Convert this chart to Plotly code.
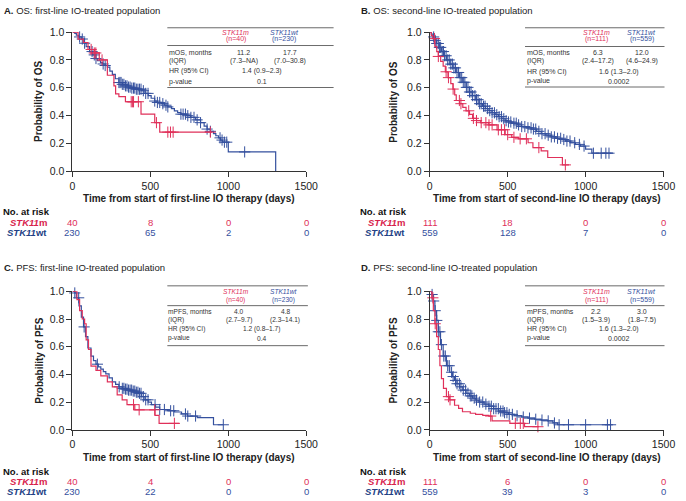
import numpy as np
import plotly.graph_objects as go

# ------------------------------------------------------------------ data
risk_times = [0, 500, 1000, 1500]

# Panel A – OS, first-line IO
a_m_t = [0, 36, 70, 100, 140, 172, 224, 266, 277, 298, 340, 440, 528, 560, 895]
a_m_s = [1.0, 0.95, 0.925, 0.875, 0.85, 0.80, 0.69, 0.614, 0.556, 0.537, 0.50, 0.411, 0.35, 0.282, 0.282]
a_m_cens = [120, 140, 150, 190, 377, 386, 392, 423, 539, 612, 629, 646, 885]
a_wt_t = [0, 15, 25, 40, 57, 75, 88, 110, 130, 150, 161, 180, 193, 210, 224, 240, 256, 275, 298, 320,
          340, 360, 381, 410, 444, 465, 486, 505, 528, 545, 570, 590, 612, 635, 654, 675, 696, 730,
          759, 790, 822, 845, 864, 885, 905, 920, 937, 950, 964, 1000, 1304]
a_wt_s = [1.0, 0.99, 0.977, 0.965, 0.95, 0.92, 0.895, 0.86, 0.836, 0.81, 0.794, 0.78, 0.771, 0.76, 0.748,
          0.72, 0.696, 0.665, 0.638, 0.625, 0.614, 0.605, 0.598, 0.59, 0.579, 0.56, 0.544, 0.525, 0.505,
          0.495, 0.486, 0.475, 0.463, 0.45, 0.435, 0.423, 0.411, 0.40, 0.388, 0.37, 0.35, 0.325, 0.304,
          0.288, 0.271, 0.256, 0.241, 0.225, 0.21, 0.14, 0.0]
a_wt_cens = [46, 63, 78, 126, 140, 151, 197, 210, 298, 305, 312, 320, 330, 340, 350, 360, 370, 381, 392,
             400, 410, 420, 430, 440, 455, 470, 485, 528, 545, 560, 580, 600, 612, 696, 710, 725, 740,
             760, 780, 800, 822, 864, 885, 947, 960, 975, 990, 1105]
a_risk_m = [40, 8, 0, 0]
a_risk_wt = [230, 65, 2, 0]

# Panel B – OS, second-line IO
b_m_t = [0, 10, 19, 33, 45, 55, 70, 86, 100, 117, 135, 149, 160, 170, 191, 212, 233, 255, 275, 300,
         327, 379, 432, 484, 526, 568, 631, 662, 715, 757, 851, 893]
b_m_s = [1.0, 0.975, 0.953, 0.895, 0.86, 0.825, 0.79, 0.755, 0.715, 0.673, 0.63, 0.591, 0.55, 0.509,
         0.486, 0.46, 0.435, 0.41, 0.381, 0.365, 0.35, 0.334, 0.299, 0.264, 0.245, 0.234, 0.206, 0.171,
         0.147, 0.10, 0.047, 0.047]
b_m_cens = [30, 55, 105, 120, 150, 190, 200, 250, 280, 300, 330, 360, 380, 400, 440, 460, 480, 500,
            540, 580, 620, 700, 870]
b_wt_t = [0, 10, 23, 35, 44, 60, 75, 90, 107, 130, 149, 170, 191, 212, 233, 255, 275, 295, 316, 338,
          358, 380, 400, 420, 442, 463, 484, 505, 526, 560, 589, 620, 652, 685, 715, 745, 778, 810,
          841, 872, 903, 935, 966, 1000, 1040, 1176]
b_wt_s = [1.0, 0.985, 0.965, 0.94, 0.918, 0.89, 0.86, 0.83, 0.80, 0.77, 0.743, 0.71, 0.673, 0.64, 0.603,
          0.57, 0.544, 0.515, 0.486, 0.468, 0.451, 0.436, 0.421, 0.407, 0.393, 0.378, 0.364, 0.355,
          0.346, 0.334, 0.322, 0.313, 0.304, 0.288, 0.271, 0.26, 0.248, 0.238, 0.229, 0.218, 0.206,
          0.194, 0.182, 0.16, 0.131, 0.131]
b_wt_cens = [25, 35, 45, 55, 62, 70, 80, 88, 95, 105, 115, 125, 135, 145, 155, 165, 175, 185, 195, 205,
             215, 225, 235, 245, 255, 265, 275, 290, 300, 310, 320, 330, 345, 355, 370, 385, 400, 415,
             430, 445, 460, 475, 490, 505, 520, 540, 555, 570, 590, 610, 630, 650, 665, 680, 700, 720,
             740, 760, 780, 800, 820, 840, 860, 880, 900, 930, 960, 990, 1050, 1100, 1130, 1150]
b_risk_m = [111, 18, 0, 0]
b_risk_wt = [559, 128, 7, 0]

# Panel C – PFS, first-line IO
c_m_t = [0, 29, 46, 63, 78, 88, 103, 119, 151, 182, 224, 256, 287, 319, 350, 400, 530, 556, 685]
c_m_s = [1.0, 0.94, 0.86, 0.80, 0.766, 0.65, 0.58, 0.46, 0.43, 0.39, 0.346, 0.311, 0.253, 0.217, 0.182,
         0.145, 0.105, 0.047, 0.047]
c_m_cens = [392, 428, 528, 654]
c_wt_t = [0, 15, 25, 42, 57, 71, 84, 99, 119, 135, 151, 166, 182, 198, 214, 235, 256, 277, 298, 320,
          340, 360, 381, 402, 423, 444, 465, 486, 507, 533, 560, 610, 654, 700, 738, 801, 905, 968]
c_wt_s = [1.0, 0.988, 0.953, 0.895, 0.813, 0.743, 0.673, 0.591, 0.533, 0.50, 0.474, 0.455, 0.439, 0.42,
          0.404, 0.375, 0.346, 0.328, 0.311, 0.30, 0.294, 0.287, 0.280, 0.272, 0.264, 0.24, 0.217, 0.2,
          0.182, 0.165, 0.147, 0.138, 0.129, 0.115, 0.10, 0.089, 0.037, 0.037]
c_wt_cens = [15, 40, 75, 160, 300, 320, 330, 340, 350, 360, 370, 380, 390, 400, 410, 420, 430, 440, 455,
             470, 485, 530, 560, 590, 630, 650, 725, 740, 790, 968]
c_risk_m = [40, 4, 0, 0]
c_risk_wt = [230, 22, 0, 0]

# Panel D – PFS, second-line IO
d_m_t = [0, 13, 23, 33, 44, 55, 65, 75, 88, 107, 128, 159, 185, 210, 260, 294, 340, 379, 400, 514,
         608, 700]
d_m_s = [1.0, 0.953, 0.86, 0.766, 0.673, 0.58, 0.463, 0.37, 0.30, 0.24, 0.217, 0.178, 0.155, 0.131,
         0.12, 0.112, 0.105, 0.10, 0.065, 0.047, 0.023, 0.023]
d_m_cens = [20, 35, 120, 130, 391, 549, 581, 600, 694]
d_wt_t = [0, 13, 23, 33, 44, 55, 69, 86, 107, 128, 145, 159, 175, 191, 212, 233, 255, 275, 295, 316,
          348, 379, 410, 442, 475, 505, 545, 589, 630, 673, 715, 757, 790, 820, 1165]
d_wt_s = [1.0, 0.977, 0.93, 0.86, 0.79, 0.708, 0.615, 0.533, 0.463, 0.416, 0.385, 0.357, 0.333, 0.311,
          0.287, 0.264, 0.245, 0.229, 0.215, 0.201, 0.186, 0.171, 0.153, 0.136, 0.124, 0.112, 0.102,
          0.093, 0.085, 0.077, 0.071, 0.065, 0.05, 0.037, 0.037]
d_wt_cens = [15, 25, 35, 45, 55, 65, 75, 90, 100, 115, 125, 140, 150, 165, 175, 190, 200, 215, 230, 245,
             260, 270, 285, 300, 320, 340, 360, 380, 395, 410, 425, 440, 455, 470, 480, 495, 510, 530,
             560, 600, 640, 680, 720, 760, 800, 830, 890, 1000, 1140, 1160]
d_risk_m = [111, 6, 0, 0]
d_risk_wt = [559, 39, 3, 0]

# inset table texts
row_labels_os = ["mOS, months", "(IQR)", "HR (95% CI)", "p-value"]
row_labels_pfs = ["mPFS, months", "(IQR)", "HR (95% CI)", "p-value"]
a_n = ["(n=40)", "(n=230)"]; a_med = ["11.2", "17.7"]; a_iqr = ["(7.3–NA)", "(7.0–30.8)"]
a_hr = "1.4 (0.9–2.3)"; a_p = "0.1"
b_n = ["(n=111)", "(n=559)"]; b_med = ["6.3", "12.0"]; b_iqr = ["(2.4–17.2)", "(4.6–24.9)"]
b_hr = "1.6 (1.3–2.0)"; b_p = "0.0002"
c_n = ["(n=40)", "(n=230)"]; c_med = ["4.0", "4.8"]; c_iqr = ["(2.7–9.7)", "(2.3–14.1)"]
c_hr = "1.2 (0.8–1.7)"; c_p = "0.4"
d_n = ["(n=111)", "(n=559)"]; d_med = ["2.2", "3.0"]; d_iqr = ["(1.5–3.9)", "(1.8–7.5)"]
d_hr = "1.6 (1.3–2.0)"; d_p = "0.0002"

titles = ["<b>A.</b> OS: first-line IO-treated population",
          "<b>B.</b> OS: second-line IO-treated population",
          "<b>C.</b> PFS: first-line IO-treated population",
          "<b>D.</b> PFS: second-line IO-treated population"]
ytitles = ["Probability of OS", "Probability of OS", "Probability of PFS", "Probability of PFS"]
xtitles = ["Time from start of first-line IO therapy (days)",
           "Time from start of second-line IO therapy (days)",
           "Time from start of first-line IO therapy (days)",
           "Time from start of second-line IO therapy (days)"]

# ------------------------------------------------------------------ style
W, H = 686, 501
FONT = "Liberation Sans, Arial, Helvetica, sans-serif"
RED = "#E0305A"
BLUE = "#34509E"
RED_TXT = "#D8234C"
BLUE_TXT = "#233F85"
AX = "#333333"


def px(x):
    return x / W


def py(y):
    return 1 - y / H


def surv_at(t, s, times):
    idx = np.searchsorted(np.array(t), np.array(times), side="right") - 1
    return np.array(s)[idx]


panels = [
    dict(t=(a_m_t, a_m_s, a_m_cens, a_wt_t, a_wt_s, a_wt_cens), risk=(a_risk_m, a_risk_wt),
         tab=(row_labels_os, a_n, a_med, a_iqr, a_hr, a_p),
         x0=71, x1=310, y0=26.7, y1=169.5, title=(0, 5), ytx=37, xty=197.7,
         nrisk=(-1, 210.7, 222, 232.3), lab_r=46.5,
         tb=dict(lx0=168, lx1=338, top=22.3, h1=27, h2=34.3, hl=40.5, rows=[47.3, 56.3, 67, 77.5],
                 bot=83.5, lab=169, mh=238, wh=287.5, mv=246, wv=293, mid=265, fs=7)),
    dict(t=(b_m_t, b_m_s, b_m_cens, b_wt_t, b_wt_s, b_wt_cens), risk=(b_risk_m, b_risk_wt),
         tab=(row_labels_os, b_n, b_med, b_iqr, b_hr, b_p),
         x0=436.3, x1=675.3, y0=26.7, y1=169.5, title=(365, 5), ytx=399.7, xty=197.7,
         nrisk=(363.7, 210.7, 222, 232.3), lab_r=412,
         tb=dict(lx0=533.7, lx1=676.3, top=22.3, h1=27, h2=34.3, hl=41.5, rows=[47.3, 56.3, 67.5, 77.3],
                 bot=83, lab=534.3, mh=606.5, wh=653, mv=608, wv=653, mid=630, fs=7)),
    dict(t=(c_m_t, c_m_s, c_m_cens, c_wt_t, c_wt_s, c_wt_cens), risk=(c_risk_m, c_risk_wt),
         tab=(row_labels_pfs, c_n, c_med, c_iqr, c_hr, c_p),
         x0=71, x1=310, y0=292.3, y1=434.3, title=(0, 268.3), ytx=37, xty=462.3,
         nrisk=(-1, 476.7, 487.3, 497.3), lab_r=46.5,
         tb=dict(lx0=168, lx1=311.7, top=286.7, h1=292.5, h2=301.3, hl=307, rows=[312.5, 321.3, 331, 340.5],
                 bot=348, lab=168, mh=237.7, wh=287, mv=240.8, wv=288.5, mid=264, fs=6.6)),
    dict(t=(d_m_t, d_m_s, d_m_cens, d_wt_t, d_wt_s, d_wt_cens), risk=(d_risk_m, d_risk_wt),
         tab=(row_labels_pfs, d_n, d_med, d_iqr, d_hr, d_p),
         x0=436.3, x1=675.3, y0=292.3, y1=434.3, title=(365, 268.3), ytx=399.7, xty=462.3,
         nrisk=(363.7, 476.7, 487.3, 497.3), lab_r=412,
         tb=dict(lx0=533.7, lx1=676.3, top=286.7, h1=292.5, h2=301.3, hl=307, rows=[312.5, 321.3, 331, 340.5],
                 bot=348, lab=534.3, mh=606.5, wh=653, mv=606, wv=653, mid=630, fs=7)),
]

fig = go.Figure()
annotations = []
shapes = []
layout_axes = {}


def ann(text, x, y, size, color="#222", xanchor="center", yanchor="middle", xref="paper", **kw):
    annotations.append(dict(text=text, x=x, y=y, xref=xref, yref="paper", showarrow=False,
                            xanchor=xanchor, yanchor=yanchor, borderpad=0,
                            font=dict(family=FONT, size=size, color=color), **kw))


for i, p in enumerate(panels):
    k = "" if i == 0 else str(i + 1)
    xa, ya = "x" + k, "y" + k
    m_t, m_s, m_c, w_t, w_s, w_c = p["t"]

    for (tt, ss, cc, col) in [(w_t, w_s, w_c, BLUE), (m_t, m_s, m_c, RED)]:
        fig.add_trace(go.Scatter(x=tt, y=ss, mode="lines", line=dict(color=col, width=1.2, shape="hv"),
                                 xaxis=xa, yaxis=ya, showlegend=False, hoverinfo="skip",
                                 cliponaxis=False))
        fig.add_trace(go.Scatter(x=cc, y=surv_at(tt, ss, cc), mode="markers",
                                 marker=dict(symbol="cross-thin", size=8, line=dict(color=col, width=1)),
                                 xaxis=xa, yaxis=ya, showlegend=False, hoverinfo="skip",
                                 cliponaxis=False))

    axcommon = dict(showline=True, linecolor=AX, linewidth=1, ticks="outside", ticklen=5, tickwidth=1,
                    tickcolor=AX, showgrid=False, zeroline=False,
                    tickfont=dict(family=FONT, size=10.5, color="#222"))
    layout_axes["xaxis" + k] = dict(domain=[px(p["x0"]), px(p["x1"])], anchor=ya, range=[0, 1500],
                                    tickvals=risk_times, **axcommon)
    layout_axes["yaxis" + k] = dict(domain=[py(p["y1"]), py(p["y0"])], anchor=xa, range=[0, 1],
                                    dtick=0.2, tickformat=".1f", **axcommon)

    # titles
    ann(titles[i], px(p["title"][0]), py(p["title"][1]), 9.5, xanchor="left")
    ann("<b>" + ytitles[i] + "</b>", px(p["ytx"]), py((p["y0"] + p["y1"]) / 2), 10, textangle=-90)
    ann("<b>" + xtitles[i] + "</b>", px((p["x0"] + p["x1"]) / 2), py(p["xty"]), 10)

    # number at risk
    nx, ny0, ny1, ny2 = p["nrisk"]
    ann("<b>No. at risk</b>", px(nx), py(ny0), 9.5, color="#111", xanchor="left")
    ann("<b><i>STK11</i>m</b>", px(p["lab_r"]), py(ny1), 9.5, color=RED_TXT, xanchor="right")
    ann("<b><i>STK11</i>wt</b>", px(p["lab_r"]), py(ny2), 9.5, color=BLUE_TXT, xanchor="right")
    rm, rw = p["risk"]
    for tval, vm, vw in zip(risk_times, rm, rw):
        ann(str(vm), tval, py(ny1), 9.5, color=RED, xref=xa)
        ann(str(vw), tval, py(ny2), 9.5, color=BLUE, xref=xa)

    # inset table
    tb = p["tb"]
    labels, ns, meds, iqrs, hr, pv = p["tab"]
    fs = tb["fs"]
    for yy in (tb["top"], tb["hl"], tb["bot"]):
        shapes.append(dict(type="line", xref="paper", yref="paper", x0=px(tb["lx0"]), x1=px(tb["lx1"]),
                           y0=py(yy), y1=py(yy), line=dict(color="#444", width=0.8)))
    ann("<i>STK11m</i>", px(tb["mh"]), py(tb["h1"]), fs, color=RED)
    ann(ns[0], px(tb["mh"]), py(tb["h2"]), fs, color=RED)
    ann("<i>STK11wt</i>", px(tb["wh"]), py(tb["h1"]), fs, color=BLUE)
    ann(ns[1], px(tb["wh"]), py(tb["h2"]), fs, color=BLUE)
    for lab, yy in zip(labels, tb["rows"]):
        ann(lab, px(tb["lab"]), py(yy), fs, color="#333", xanchor="left")
    ann(meds[0], px(tb["mv"]), py(tb["rows"][0]), fs, color="#333")
    ann(meds[1], px(tb["wv"]), py(tb["rows"][0]), fs, color="#333")
    ann(iqrs[0], px(tb["mv"]), py(tb["rows"][1]), fs, color="#333")
    ann(iqrs[1], px(tb["wv"]), py(tb["rows"][1]), fs, color="#333")
    ann(hr, px(tb["mid"]), py(tb["rows"][2]), fs, color="#333")
    ann(pv, px(tb["mid"]), py(tb["rows"][3]), fs, color="#333")

fig.update_layout(width=W, height=H, margin=dict(l=0, r=0, t=0, b=0),
                  paper_bgcolor="white", plot_bgcolor="white",
                  font=dict(family=FONT), annotations=annotations, shapes=shapes,
                  showlegend=False, **layout_axes)

fig.write_html("out.html", config={"displayModeBar": False},
               post_script="document.body.style.margin='0';document.body.style.padding='0';"
                           "document.documentElement.style.overflow='hidden';")
